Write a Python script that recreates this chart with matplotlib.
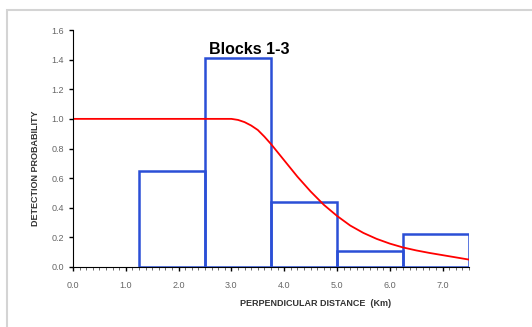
import matplotlib
matplotlib.use('Agg')
from matplotlib import pyplot as plt
from matplotlib.patches import Rectangle
from matplotlib.ticker import MultipleLocator, FormatStrFormatter

# histogram bins (left edges) and heights
bin_left = [1.25, 2.5, 3.75, 5.0, 6.25]
bin_height = [0.65, 1.41, 0.44, 0.11, 0.22]
bin_width = 1.25

# fitted detection function
curve_x = [0.0, 3.0, 3.125, 3.25, 3.375, 3.5, 3.625, 3.75, 3.875, 4.0, 4.25, 4.5,
           4.75, 5.0, 5.25, 5.5, 5.75, 6.0, 6.25, 6.5, 6.75, 7.0, 7.25, 7.5]
curve_y = [1.0, 1.0, 0.993, 0.978, 0.955, 0.925, 0.88, 0.83, 0.775, 0.72, 0.61, 0.51,
           0.42, 0.345, 0.28, 0.23, 0.19, 0.158, 0.132, 0.112, 0.095, 0.08, 0.065, 0.05]

plt.rcParams['font.family'] = ['Liberation Sans', 'DejaVu Sans']

fig = plt.figure(figsize=(5.32, 3.27), dpi=100)
# light grey frame around the chart
fig.patches.append(Rectangle((7/532, -0.1), 1.2, (327-10)/327 + 0.1,
                             transform=fig.transFigure, fill=False,
                             edgecolor='#d4d4d4', linewidth=1.5))

ax = fig.add_axes([73/532, 60/327, 396/532, 237/327])
ax.plot(curve_x, curve_y, color='red', linewidth=1.3, zorder=2)
ax.bar(bin_left, bin_height, width=bin_width, align='edge', fill=False,
       edgecolor='#2b4fd6', linewidth=1.8, zorder=1.5)

ax.set_xlim(0, 7.5)
ax.set_ylim(0, 1.6)
ax.spines['top'].set_visible(False)
ax.spines['right'].set_visible(False)
ax.xaxis.set_major_locator(MultipleLocator(1.0))
ax.xaxis.set_minor_locator(MultipleLocator(0.125))
ax.yaxis.set_major_locator(MultipleLocator(0.2))
ax.xaxis.set_major_formatter(FormatStrFormatter('%.1f'))
ax.yaxis.set_major_formatter(FormatStrFormatter('%.1f'))
ax.tick_params(axis='both', which='major', labelsize=6.5, labelcolor='#666666',
               length=3, width=1, direction='out')
ax.tick_params(axis='x', which='minor', length=2, width=0.6, color='#555555')
ax.tick_params(axis='x', pad=7)

ax.text(3.33, 1.47, 'Blocks 1-3', fontsize=11.5, fontweight='bold', ha='center', va='center')
fig.text(316/532, 1 - 303/327, 'PERPENDICULAR DISTANCE  (Km)', fontsize=6.5,
         fontweight='bold', color='#333333', ha='center', va='center')
fig.text(35/532, 1 - 168/327, 'DETECTION PROBABILITY', fontsize=6.5, rotation=90,
         fontweight='bold', color='#333333', ha='center', va='center')

fig.savefig('out.png', dpi=100)
